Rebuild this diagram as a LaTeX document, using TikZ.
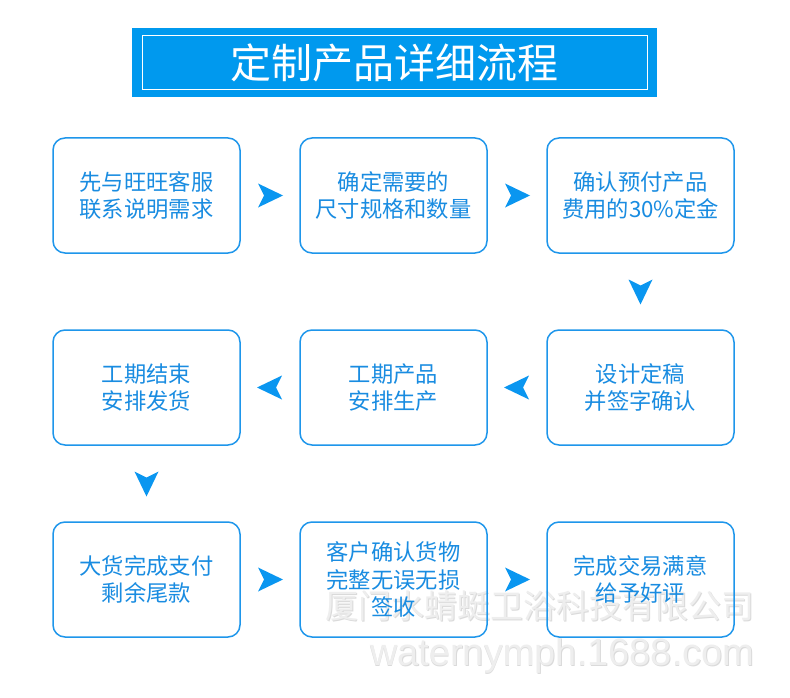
\documentclass[tikz,border=0pt]{standalone}
\usepackage{fontspec}
\usetikzlibrary{calc}
\setmainfont{Liberation Sans}
\newfontfamily\cjk{Noto Sans CJK SC}
\newfontfamily\wmfont{Liberation Sans}
\definecolor{titleblue}{RGB}{0,153,238}
\definecolor{boxblue}{RGB}{30,150,235}
\definecolor{txtblue}{RGB}{25,140,225}
\definecolor{arrblue}{RGB}{10,150,240}
\definecolor{wm}{RGB}{238,238,238}
\definecolor{wmsh}{RGB}{218,218,218}
\begin{document}
\begin{tikzpicture}[x=1pt,y=-1pt,
  stepbox/.style={draw=boxblue,line width=1.5pt,rounded corners=12pt,minimum width=187pt,minimum height=115pt,align=center,text=txtblue,font=\cjk\fontsize{22.3}{27.5}\selectfont,inner sep=0pt},
  arr/.style={fill=arrblue,draw=none}]
\useasboundingbox (0,0) rectangle (790,698);
\fill[white] (0,0) rectangle (790,698);
% watermark (behind)
\node[text=wmsh,font=\cjk\fontsize{33}{33}\selectfont,anchor=east] (wm1s) at (758.8,606.8) {厦门水蜻蜓卫浴科技有限公司};
\node[text=wm,font=\cjk\fontsize{33}{33}\selectfont,anchor=east] (wm1) at (758,606) {厦门水蜻蜓卫浴科技有限公司};
\node[text=wmsh,font=\wmfont\fontsize{38}{38}\selectfont,anchor=east] (wm2s) at (758.8,656.8) {waternymph.1688.com};
\node[text=wm,font=\wmfont\fontsize{38}{38}\selectfont,anchor=east] (wm2) at (758,656) {waternymph.1688.com};
% title
\fill[titleblue] (132,28) rectangle (657,97);
\draw[white,line width=1pt] (142,35.5) rectangle (647,89.5);
\node[text=white,font=\cjk\fontsize{41}{41}\selectfont] (title) at (394.5,63) {定制产品详细流程};
% boxes
\node[stepbox] (b1) at (146.5,195.5) {先与旺旺客服\\联系说明需求};
\node[stepbox] (b2) at (393.5,195.5) {确定需要的\\尺寸规格和数量};
\node[stepbox] (b3) at (640.5,195.5) {确认预付产品\\费用的30\%定金};
\node[stepbox] (b4) at (640.5,387.5) {设计定稿\\并签字确认};
\node[stepbox] (b5) at (393.5,387.5) {工期产品\\安排生产};
\node[stepbox] (b6) at (146.5,387.5) {工期结束\\安排发货};
\node[stepbox] (b7) at (146.5,579.5) {大货完成支付\\剩余尾款};
\node[stepbox] (b8) at (393.5,579.5) {客户确认货物\\完整无误无损\\签收};
\node[stepbox] (b9) at (640.5,579.5) {完成交易满意\\给予好评};
% arrows (chevron triangles)
\newcommand\rarr[1]{\fill[arr] ($(#1)+(-12,-12)$) -- ($(#1)+(13,0)$) -- ($(#1)+(-12,12)$) -- ($(#1)+(-6,0)$) -- cycle;}
\newcommand\larr[1]{\fill[arr] ($(#1)+(12,-12)$) -- ($(#1)+(-13,0)$) -- ($(#1)+(12,12)$) -- ($(#1)+(6,0)$) -- cycle;}
\newcommand\darr[1]{\fill[arr] ($(#1)+(-12,-12)$) -- ($(#1)+(0,13)$) -- ($(#1)+(12,-12)$) -- ($(#1)+(0,-6)$) -- cycle;}
\path ($(b1.east)!0.5!(b2.west)$) coordinate (a12);
\path ($(b2.east)!0.5!(b3.west)$) coordinate (a23);
\path ($(b3.south)!0.5!(b4.north)$) coordinate (a34);
\path ($(b4.west)!0.5!(b5.east)$) coordinate (a45);
\path ($(b5.west)!0.5!(b6.east)$) coordinate (a56);
\path ($(b6.south)!0.5!(b7.north)$) coordinate (a67);
\path ($(b7.east)!0.5!(b8.west)$) coordinate (a78);
\path ($(b8.east)!0.5!(b9.west)$) coordinate (a89);
\rarr{a12}\rarr{a23}\darr{a34}\larr{a45}\larr{a56}\darr{a67}\rarr{a78}\rarr{a89}
\end{tikzpicture}
\end{document}
